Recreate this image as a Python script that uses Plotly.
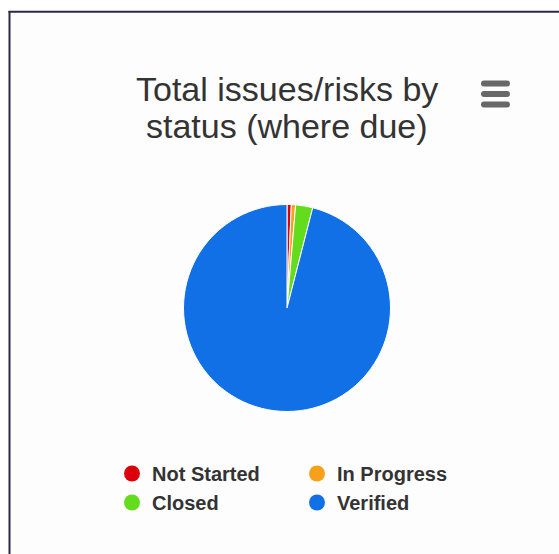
import plotly.graph_objects as go

W, H = 559, 554

# ---- data ----
statuses = ["Not Started", "In Progress", "Closed", "Verified"]
counts = [1, 1, 4, 144]
colors = ["#dc000c", "#f7a11a", "#64dc1e", "#1170e6"]
title_lines = ["Total issues/risks by", "status (where due)"]
legend_cols = [["Not Started", "Closed"], ["In Progress", "Verified"]]


def px(x):
    return x / W


def py(y):
    return 1 - y / H


fig = go.Figure()

fig.add_trace(go.Pie(
    labels=statuses,
    values=counts,
    marker=dict(colors=colors, line=dict(color="white", width=1)),
    sort=False,
    direction="clockwise",
    rotation=0,
    textinfo="none",
    hoverinfo="label+value",
    showlegend=False,
    domain=dict(x=[px(183.5), px(390.5)], y=[py(411.5), py(204.5)]),
))

color_of = dict(zip(statuses, colors))
for li, col in enumerate(legend_cols):
    for name in col:
        fig.add_trace(go.Scatter(
            x=[None], y=[None], mode="markers", name=name,
            marker=dict(color=color_of[name], size=16, symbol="circle"),
            legend="legend" if li == 0 else "legend2",
            hoverinfo="skip",
        ))

legend_common = dict(
    orientation="v",
    font=dict(family="Liberation Sans", size=20, color="#333333", weight="bold"),
    bgcolor="rgba(0,0,0,0)",
    yanchor="top",
    xanchor="left",
    itemclick=False,
    itemdoubleclick=False,
)

shapes = [
    # inner background
    dict(type="rect", xref="paper", yref="paper", x0=px(10), x1=1, y0=0, y1=py(12.5),
         fillcolor="#fdfdfd", line=dict(width=0), layer="below"),
    # frame
    dict(type="line", xref="paper", yref="paper", x0=px(9.5), x1=px(9.5), y0=0, y1=py(11),
         line=dict(color="#2c2a42", width=2)),
    dict(type="line", xref="paper", yref="paper", x0=px(8.5), x1=1, y0=py(11.8), y1=py(11.8),
         line=dict(color="#2c2a42", width=2)),
]

# hamburger menu icon
for yc in (83.5, 94, 104.5):
    x0, x1, h = 481, 510, 3
    pts = (f"M {px(x0 + h)},{py(yc - h)} L {px(x1 - h)},{py(yc - h)} "
           f"Q {px(x1)},{py(yc - h)} {px(x1)},{py(yc)} Q {px(x1)},{py(yc + h)} {px(x1 - h)},{py(yc + h)} "
           f"L {px(x0 + h)},{py(yc + h)} Q {px(x0)},{py(yc + h)} {px(x0)},{py(yc)} "
           f"Q {px(x0)},{py(yc - h)} {px(x0 + h)},{py(yc - h)} Z")
    shapes.append(dict(type="path", xref="paper", yref="paper", path=pts,
                       fillcolor="#686868", line=dict(width=0)))

annotations = []
for txt, ymid in zip(title_lines, (89.5, 125.5)):
    annotations.append(dict(
        text=txt, xref="paper", yref="paper", x=px(287), y=py(ymid),
        xanchor="center", yanchor="middle", showarrow=False,
        font=dict(family="Liberation Sans", size=34, color="#333333"),
    ))

fig.update_layout(
    width=W, height=H,
    margin=dict(l=0, r=0, t=0, b=0),
    paper_bgcolor="white",
    plot_bgcolor="rgba(0,0,0,0)",
    xaxis=dict(visible=False),
    yaxis=dict(visible=False),
    shapes=shapes,
    annotations=annotations,
    legend=dict(x=px(112), y=py(454), **legend_common),
    legend2=dict(x=px(297), y=py(454), **legend_common),
    hovermode=False,
)

fig.write_html("out.html", config={"displayModeBar": False})
